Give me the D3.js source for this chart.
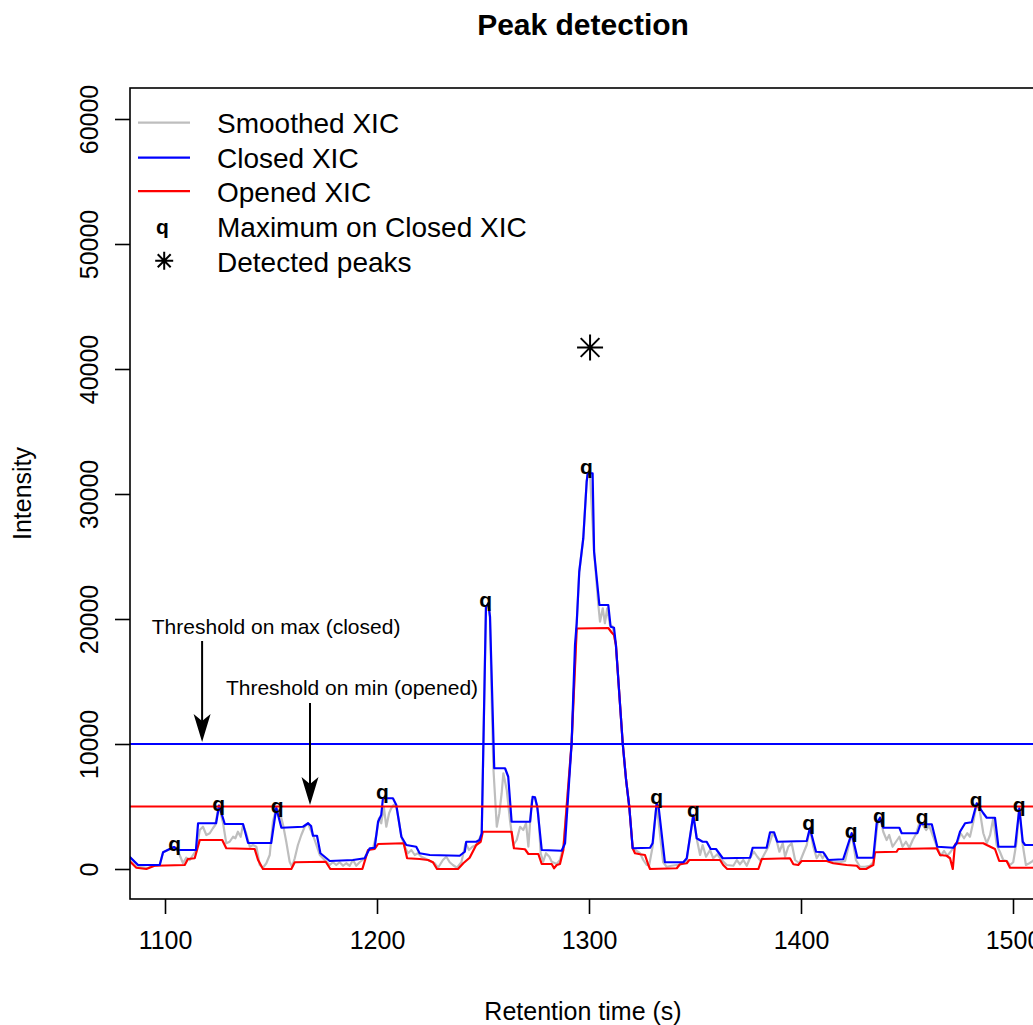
<!DOCTYPE html>
<html>
<head>
<meta charset="utf-8">
<script src="https://cdn.jsdelivr.net/npm/d3@7"></script>
<style>
  body { margin: 0; background: #fff; }
  svg { display: block; font-family: "Liberation Sans", Arial, Helvetica, sans-serif; }
</style>
</head>
<body>
<script>
// ---- data (time in s, intensity) ----
var xTicks = [1100, 1200, 1300, 1400, 1500];
var yTicks = [0, 10000, 20000, 30000, 40000, 50000, 60000];

var smoothedXIC = [
  [1083.3,980],[1087.3,240],[1088.7,160],[1092.0,80],[1093.9,240],[1095.3,240],[1097.5,320],[1099.1,1340],
  [1101.4,1520],[1104.6,1760],[1106.9,1120],[1108.5,460],[1110.0,900],[1111.7,720],[1113.2,1120],[1114.8,1520],
  [1116.4,3120],[1117.9,3380],[1119.5,2720],[1121.1,2860],[1122.6,3260],[1123.7,3520],[1125.4,5080],[1127.4,3660],
  [1128.9,2060],[1130.5,2180],[1132.1,2580],[1133.2,2460],[1134.4,2980],[1135.7,2580],[1136.8,3520],[1138.3,2860],
  [1140.0,1780],[1141.5,1920],[1143.1,1780],[1144.7,320],[1146.2,100],[1147.8,460],[1149.4,1120],[1150.9,3780],
  [1152.5,4880],[1154.1,4580],[1155.7,3520],[1157.2,2180],[1158.8,580],[1159.9,180],[1161.2,860],[1162.7,1920],
  [1164.3,2720],[1165.9,3380],[1167.5,3660],[1168.7,3120],[1169.8,2720],[1171.4,1920],[1173.0,1120],[1175.3,720],
  [1177.7,320],[1179.2,540],[1180.8,320],[1182.4,540],[1184.0,260],[1185.5,460],[1187.1,260],[1188.7,720],
  [1190.2,260],[1191.8,540],[1194.2,860],[1195.8,1520],[1198.1,1660],[1199.7,2720],[1200.9,4060],[1202.0,3660],
  [1203.2,4980],[1204.4,3380],[1205.7,4460],[1206.7,4860],[1207.9,5120],[1209.1,4980],[1210.4,3780],[1211.5,2580],
  [1213.1,1780],[1214.6,1260],[1216.2,1520],[1217.8,1120],[1219.3,1260],[1220.9,980],[1222.5,860],[1224.9,640],
  [1227.2,460],[1228.8,100],[1231.1,720],[1232.7,980],[1234.3,540],[1235.8,320],[1237.7,100],[1239.8,540],
  [1241.8,2060],[1243.4,1520],[1245.0,1780],[1246.8,1920],[1248.4,2460],[1249.4,2860],[1251.4,20980],[1252.5,21260],
  [1253.3,20180],[1254.1,13520],[1254.9,8060],[1256.5,3380],[1257.7,4460],[1258.8,6060],[1259.6,7660],[1261.2,6320],
  [1262.7,3920],[1264.3,1920],[1265.9,2320],[1267.5,3380],[1269.0,3120],[1270.3,3660],[1271.4,1780],[1273.0,5520],
  [1274.5,5740],[1276.1,4460],[1277.2,1260],[1278.4,580],[1279.7,1260],[1281.3,980],[1282.4,580],[1284.8,400],
  [1286.3,720],[1287.9,1780],[1291.8,10060],[1294.2,19660],[1295.4,23780],[1297.3,26460],[1298.9,30980],[1299.4,31660],
  [1300.5,31500],[1302.4,25380],[1304.4,21120],[1305.2,19780],[1306.5,20860],[1307.5,19660],[1308.6,20860],[1309.9,19520],
  [1311.2,19380],[1311.8,18720],[1312.7,17920],[1315.9,10060],[1317.5,7120],[1319.0,4980],[1320.6,1660],[1324.1,1260],
  [1325.6,720],[1327.2,320],[1328.4,320],[1330.0,1780],[1331.9,5260],[1333.5,2720],[1335.0,540],[1336.6,180],
  [1339.0,260],[1341.4,320],[1343.7,380],[1346.1,720],[1349.2,4320],[1351.1,2180],[1352.4,1120],[1353.6,1920],
  [1355.2,980],[1357.1,1520],[1358.6,860],[1360.5,1180],[1362.6,720],[1365.0,320],[1368.1,260],[1369.7,720],
  [1371.2,380],[1372.8,720],[1374.4,260],[1376.0,900],[1377.8,1380],[1379.4,980],[1381.0,640],[1382.5,1120],
  [1384.6,1780],[1386.7,2860],[1388.2,2460],[1389.8,1380],[1391.4,2060],[1392.5,980],[1394.0,1780],[1395.6,2060],
  [1397.2,720],[1399.2,460],[1401.1,1260],[1402.7,1920],[1404.2,3260],[1405.8,1780],[1407.4,860],[1408.9,1260],
  [1410.2,860],[1411.3,1180],[1412.9,640],[1415.2,540],[1418.4,540],[1420.8,640],[1423.9,2860],[1425.9,720],
  [1427.8,180],[1430.2,180],[1432.5,260],[1434.1,540],[1436.0,3520],[1437.3,4100],[1438.8,2980],[1440.4,2320],
  [1441.6,2720],[1443.2,1780],[1444.8,2180],[1446.4,2580],[1447.9,1780],[1449.5,2180],[1451.1,1700],[1452.7,2320],
  [1454.2,2780],[1455.8,3660],[1457.4,3520],[1459.0,3120],[1460.5,3460],[1462.4,2580],[1464.3,1700],[1465.9,1060],
  [1467.5,1440],[1469.0,1060],[1470.6,1380],[1472.2,1780],[1473.7,2060],[1475.3,2860],[1476.9,2460],[1478.4,2860],
  [1479.7,2580],[1481.3,3780],[1482.9,5260],[1484.4,4580],[1486.0,2860],[1487.6,2060],[1489.2,2720],[1490.7,4060],
  [1492.3,1920],[1493.9,1340],[1495.4,720],[1497.0,640],[1498.6,320],[1500.1,540],[1501.7,2180],[1502.9,4860],
  [1504.6,1920],[1506.1,320],[1507.7,460],[1509.4,640],[1513.0,1520]
];

var closedXIC = [
  [1083.3,980],[1087.3,320],[1097.5,320],[1099.1,1340],[1102.2,1600],[1104.2,1760],[1106.1,1520],[1114.6,1520],
  [1115.6,3660],[1124.1,3660],[1125.5,5080],[1128.2,3600],[1136.8,3600],[1139.2,2080],[1150.1,2080],[1152.5,4880],
  [1154.9,3300],[1165.1,3380],[1167.5,3660],[1168.9,3440],[1169.8,2660],[1171.7,2660],[1173.3,1260],[1175.3,980],
  [1177.7,640],[1188.7,720],[1194.2,860],[1196.6,1660],[1198.9,1700],[1200.5,3780],[1202.0,4320],[1202.8,5660],
  [1207.5,5660],[1209.1,5120],[1211.5,2580],[1213.8,1920],[1218.5,1780],[1220.1,1260],[1224.9,1120],[1239.0,1060],
  [1241.4,1380],[1242.1,2180],[1246.8,2180],[1248.4,2320],[1249.4,2860],[1251.4,20980],[1252.5,21260],[1253.3,20180],
  [1255.3,8060],[1260.4,8060],[1261.9,7380],[1263.5,3780],[1272.2,3780],[1273.4,5780],[1274.5,5740],[1275.6,4980],
  [1277.7,1520],[1287.1,1460],[1288.7,2060],[1291.8,10060],[1293.4,17920],[1294.2,19660],[1295.4,23780],[1297.3,26460],
  [1298.9,30980],[1299.4,31660],[1301.7,31660],[1302.4,25380],[1304.9,21120],[1309.1,21120],[1310.2,19380],[1311.8,19300],
  [1312.7,17920],[1315.9,10060],[1317.5,7120],[1319.0,4980],[1320.6,1660],[1328.8,1700],[1330.0,2060],[1331.9,5260],
  [1332.9,4880],[1335.8,540],[1344.5,540],[1346.1,860],[1349.2,4320],[1350.8,2460],[1353.6,2180],[1355.5,2180],
  [1357.4,1600],[1359.9,1600],[1363.1,860],[1376.0,900],[1377.2,1700],[1383.8,1700],[1385.4,2940],[1387.3,2940],
  [1388.8,2180],[1402.7,2240],[1404.2,3260],[1407.1,1380],[1410.5,1340],[1412.9,720],[1419.9,780],[1423.9,2860],
  [1426.6,900],[1434.1,900],[1435.7,3660],[1437.3,4100],[1438.8,3300],[1446.4,3300],[1447.5,2860],[1454.9,2860],
  [1456.5,3660],[1457.4,3580],[1461.7,3580],[1464.3,1780],[1471.8,1700],[1473.4,2060],[1475.0,2980],[1477.4,3660],
  [1480.5,3740],[1482.9,5260],[1486.0,4460],[1487.6,4100],[1491.5,4100],[1493.1,1780],[1501.0,1780],[1503.0,4860],
  [1504.6,2180],[1505.7,1920],[1513.0,1920]
];

var openedXIC = [
  [1083.3,640],[1086.5,100],[1091.2,0],[1095.1,260],[1109.3,320],[1110.8,800],[1114.0,860],[1116.4,2320],
  [1127.0,2320],[1128.9,1660],[1142.3,1600],[1143.9,720],[1146.2,0],[1159.6,0],[1161.2,540],[1175.8,580],
  [1178.0,0],[1193.1,0],[1195.8,1520],[1198.9,1600],[1200.5,2000],[1212.6,2060],[1214.2,860],[1220.1,800],
  [1224.1,720],[1226.4,540],[1228.3,0],[1238.2,0],[1240.7,460],[1243.7,900],[1246.8,1920],[1248.9,2180],
  [1249.9,2980],[1263.5,2980],[1264.6,1660],[1269.8,1580],[1271.4,1200],[1276.1,1200],[1277.7,400],[1282.4,400],
  [1283.5,60],[1284.8,320],[1286.3,400],[1287.9,1520],[1291.8,10060],[1294.2,19240],[1309.1,19280],[1310.7,18920],
  [1311.8,18720],[1312.7,17920],[1315.9,10060],[1317.5,7120],[1319.0,4980],[1320.6,1660],[1321.7,1260],[1324.1,1180],
  [1326.4,1120],[1328.0,320],[1328.8,0],[1341.4,60],[1342.9,380],[1346.1,460],[1347.3,720],[1361.8,720],
  [1363.3,320],[1365.2,0],[1379.9,0],[1381.5,800],[1394.8,860],[1396.4,380],[1398.7,320],[1400.3,640],
  [1412.1,640],[1415.2,460],[1421.5,320],[1426.3,260],[1427.8,0],[1430.7,0],[1432.5,180],[1434.1,320],
  [1434.9,1340],[1445.1,1380],[1445.9,1600],[1464.0,1660],[1465.6,1120],[1468.7,1060],[1470.3,860],[1471.6,0],
  [1472.6,1920],[1473.1,2060],[1486.0,2060],[1487.6,1920],[1491.5,1600],[1493.5,640],[1497.0,640],[1498.6,100],
  [1513.0,100]
];

// maxima found on the closed XIC, and the one detected peak
var maxTime      = [1104.5, 1125.3, 1152.9, 1202.6, 1251.3, 1298.8, 1331.9, 1349.2, 1403.6, 1423.7, 1437.0, 1457.2, 1482.6, 1502.9];
var maxIntensity = [1720, 4920, 4720, 5840, 21260, 31840, 5450, 4460, 3380, 2720, 3920, 3840, 5200, 4800];
var peakTime      = [1300.5];
var peakIntensity = [41720];

var thresholdMax = 10000;   // on closed XIC
var thresholdMin = 5000;    // on opened XIC

var noteLabels = ["Threshold on max (closed)", "Threshold on min (opened)"];
var noteTime   = [1152.4, 1188.2];
var noteInt    = [19440, 14560];
var arrowTime  = [1117.5, 1168.4];
var arrowFrom  = [18240, 13280];
var arrowTo    = [10160, 5120];

var legendLabels = ["Smoothed XIC", "Closed XIC", "Opened XIC", "Maximum on Closed XIC", "Detected peaks"];

// ---- layout ----
var W = 1033, H = 1025;
var plotL = 130, plotT = 88, plotR = 1036, plotB = 899;
var lw = 2.2;

var svg = d3.select("body").append("svg").attr("width", W).attr("height", H);
svg.append("rect").attr("width", W).attr("height", H).attr("fill", "#fff");

var x = d3.scaleLinear().domain([1083.49, 1510.85]).range([plotL, plotR]);
var y = d3.scaleLinear().domain([-2400, 62480]).range([plotB, plotT]);

svg.append("clipPath").attr("id", "plotclip")
  .append("rect").attr("x", plotL).attr("y", plotT).attr("width", plotR - plotL).attr("height", plotB - plotT);

var plot = svg.append("g").attr("clip-path", "url(#plotclip)");

var line = d3.line().x(function(d){ return x(d[0]); }).y(function(d){ return y(d[1]); });

plot.append("path").datum(smoothedXIC).attr("d", line)
  .attr("fill", "none").attr("stroke", "#bebebe").attr("stroke-width", lw).attr("stroke-linejoin", "round");
plot.append("path").datum(openedXIC).attr("d", line)
  .attr("fill", "none").attr("stroke", "#ff0000").attr("stroke-width", lw).attr("stroke-linejoin", "round");
plot.append("path").datum(closedXIC).attr("d", line)
  .attr("fill", "none").attr("stroke", "#0000ff").attr("stroke-width", lw).attr("stroke-linejoin", "round");

// threshold lines
plot.append("line").attr("x1", plotL).attr("x2", plotR)
  .attr("y1", y(thresholdMax)).attr("y2", y(thresholdMax))
  .attr("stroke", "#0000ff").attr("stroke-width", lw);
plot.append("line").attr("x1", plotL).attr("x2", plotR)
  .attr("y1", y(thresholdMin)).attr("y2", y(thresholdMin))
  .attr("stroke", "#ff0000").attr("stroke-width", lw);

// maxima markers ("q")
var qSize = 21;
plot.selectAll("text.maxq").data(d3.range(maxTime.length)).enter().append("text")
  .attr("class", "maxq")
  .attr("x", function(i){ return x(maxTime[i]); })
  .attr("y", function(i){ return y(maxIntensity[i]) + 0.16 * qSize; })
  .attr("text-anchor", "middle").attr("font-size", qSize).attr("font-weight", "bold")
  .text("q");

function asterisk(g, cx, cy, r) {
  var d = r * 0.72;
  var p = "M" + (cx - r) + "," + cy + "H" + (cx + r) +
          "M" + cx + "," + (cy - r) + "V" + (cy + r) +
          "M" + (cx - d) + "," + (cy - d) + "L" + (cx + d) + "," + (cy + d) +
          "M" + (cx - d) + "," + (cy + d) + "L" + (cx + d) + "," + (cy - d);
  g.append("path").attr("d", p).attr("stroke", "#000").attr("stroke-width", 2).attr("fill", "none");
}
peakTime.forEach(function(t, i){ asterisk(plot, x(t), y(peakIntensity[i]), 13); });

// annotations
noteLabels.forEach(function(lbl, i){
  svg.append("text").attr("x", x(noteTime[i])).attr("y", y(noteInt[i]) + 7.5)
    .attr("text-anchor", "middle").attr("font-size", 21).text(lbl);
  var ax = x(arrowTime[i]), y0 = y(arrowFrom[i]), y1 = y(arrowTo[i]);
  svg.append("line").attr("x1", ax).attr("x2", ax).attr("y1", y0).attr("y2", y1 - 10)
    .attr("stroke", "#000").attr("stroke-width", 2);
  svg.append("path")
    .attr("d", "M" + ax + "," + y1 + "L" + (ax - 8.5) + "," + (y1 - 28) + "L" + ax + "," + (y1 - 21) + "L" + (ax + 8.5) + "," + (y1 - 28) + "Z")
    .attr("fill", "#000");
});

// axes
var gx = svg.append("g").attr("transform", "translate(0," + plotB + ")")
  .call(d3.axisBottom(x).tickValues(xTicks).tickSize(15).tickFormat(d3.format("d")));
gx.select(".domain").remove();
gx.selectAll(".tick line").attr("stroke", "#000").attr("stroke-width", 1.6);
gx.selectAll(".tick text").attr("dy", null).attr("y", 50)
  .attr("font-size", 25).attr("fill", "#000").attr("font-family", null);

var gy = svg.append("g").attr("transform", "translate(" + plotL + ",0)")
  .call(d3.axisLeft(y).tickValues(yTicks).tickSize(15).tickFormat(d3.format("d")));
gy.select(".domain").remove();
gy.selectAll(".tick line").attr("stroke", "#000").attr("stroke-width", 1.6);
gy.selectAll(".tick text").attr("dy", null).attr("x", 0).attr("y", -32)
  .attr("transform", "rotate(-90)").attr("text-anchor", "middle")
  .attr("font-size", 25).attr("fill", "#000").attr("font-family", null);

// frame
svg.append("rect").attr("x", plotL).attr("y", plotT).attr("width", plotR - plotL).attr("height", plotB - plotT)
  .attr("fill", "none").attr("stroke", "#000").attr("stroke-width", 1.6);

// titles
svg.append("text").attr("x", (plotL + plotR) / 2).attr("y", 35)
  .attr("text-anchor", "middle").attr("font-size", 30).attr("font-weight", "bold").text("Peak detection");
svg.append("text").attr("x", (plotL + plotR) / 2).attr("y", 1020)
  .attr("text-anchor", "middle").attr("font-size", 25).text("Retention time (s)");
svg.append("text").attr("transform", "translate(31," + ((plotT + plotB) / 2) + ") rotate(-90)")
  .attr("text-anchor", "middle").attr("font-size", 25).text("Intensity");

// legend
var legRowY = [123.3, 158.3, 191.7, 226.7, 261.7];
var legColors = ["#bebebe", "#0000ff", "#ff0000"];
var leg = svg.append("g");
legendLabels.forEach(function(lbl, i){
  leg.append("text").attr("x", 217).attr("y", legRowY[i] + 10).attr("font-size", 28).text(lbl);
  if (i < 3) {
    leg.append("line").attr("x1", 138).attr("x2", 190)
      .attr("y1", legRowY[i] - 0.6).attr("y2", legRowY[i] - 0.6)
      .attr("stroke", legColors[i]).attr("stroke-width", lw);
  }
});
leg.append("text").attr("x", 162.5).attr("y", 231 + 0.16 * qSize)
  .attr("text-anchor", "middle").attr("font-size", qSize).attr("font-weight", "bold").text("q");
asterisk(leg, 164.2, 260.8, 9);
</script>
</body>
</html>
